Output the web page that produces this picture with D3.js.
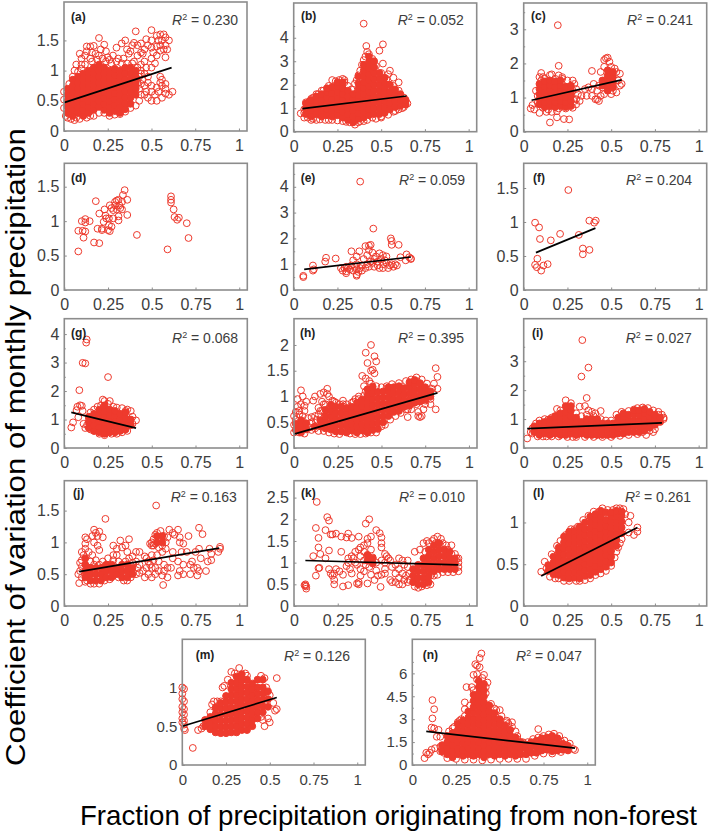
<!DOCTYPE html>
<html><head><meta charset="utf-8"><script src="https://cdn.jsdelivr.net/npm/d3@7/dist/d3.min.js"></script>
<style>html,body{margin:0;padding:0;background:#fff}svg{display:block}text{font-family:"Liberation Sans",Arial,sans-serif}</style>
</head><body><div id="c"></div>
<script>
// Values are estimated by eye from the reference.
// *Pts = individually readable circles [x,y]. *Mass = saturated regions where rings overlap into solid red:
// each row is [x, y, y, y...]; these estimates are drawn as filled markers.
const panelIds=["a","b","c","d","e","f","g","h","i","j","k","l","m","n"];
const r2Labels=["0.230","0.052","0.241",null,"0.059","0.204","0.068","0.395","0.027","0.163","0.010","0.261","0.126","0.047"];
const yTicks=[[0,.5,1,1.5],[0,1,2,3,4],[0,1,2,3],[0,.5,1,1.5],[0,1,2,3,4],[0,.5,1,1.5],[0,1,2,3,4],[0,.5,1,1.5,2],[0,1,2,3],[0,.5,1,1.5],[0,.5,1,1.5,2,2.5],[0,.5,1],[0,.5,1],[0,1.5,3,4.5,6]];
const yMinorTicks=[[],[.5,1.5,2.5,3.5,4.5],[.5,1.5,2.5,3.5],[],[.5,1.5,2.5,3.5,4.5],[],[.5,1.5,2.5,3.5],[],[.5,1.5,2.5,3.5],[],[],[],[],[.75,2.25,3.75,5.25,6.75]];
const yTops=[2.136,5.48,3.77,1.84,4.91,1.863,4.54,2.51,4.47,1.97,2.89,1.5,1.62,8.23];
const xTicks=[0,.25,.5,.75,1];
const fitLines=[[0,.47,.615,1.05],[.05,.98,.645,1.52],[.045,.92,.56,1.52],null,[.06,.8,.67,1.28],[.07,.55,.41,.91],[.04,1.25,.41,.7],[0,.27,.82,1.07],[.02,.67,.79,.87],[.085,.54,.885,.91],[.065,1.05,.94,.95],[.1,.36,.65,.94],[0,.5,.54,.87],[.08,2.2,.93,1.1]];

const aPts=[[0,.65],[0,.52],[0,.38],[.02,.22],[.04,.2],[.07,.22],[.15,.25],[.11,.27],[.2,1.54],[.13,1.4],[.15,1.4],[.17,1.41],[.23,1.43],[.24,1.32],[.09,1.28],[.12,1.25],[.15,1.2],[.18,1.28],[.2,1.25],[.06,1],[.07,1.1],[.1,1.1],[.28,1.25],[.31,1.2],[.3,1.38],[.33,1.45],[.35,1.5],[.38,1.32],[.37,1.28],[.41,1.65],[.4,1.46],[.42,1.42],[.44,1.3],[.45,1.28],[.47,1.52],[.5,1.67],[.5,1.5],[.48,1.42],[.5,1.38],[.46,1.15],[.5,1.2],[.5,1.05],[.47,1.05],[.44,1.1],[.53,1.58],[.55,1.6],[.57,1.6],[.58,1.55],[.6,1.5],[.54,1.5],[.56,1.5],[.58,1.42],[.55,1.42],[.57,1.35],[.53,1.4],[.55,1.33],[.59,1.35],[.58,1.22],[.51,1.3],[.53,1.25],[.62,.65],[.6,.6],[.58,.62],[.58,.7],[.56,.55],[.53,.5],[.5,.5],[.48,.55],[.46,.6],[.44,.6],[.43,.7],[.46,.75],[.5,.65],[.52,.6],[.54,.65],[.56,.75],[.56,.85],[.55,.8],[.53,.72],[.5,.75],[.47,.65],[.48,.8],[.45,.85],[.43,.9],[.58,.78],[.55,.9],[.3,1.15],[.26,1.18],[.22,1.2],[.4,1.15],[.42,1.05],[.42,.8],[.44,.95],[.03,.78],[.05,.9],[.08,.98],[.1,1.03],[.12,1.1],[.16,1.15],[.19,1.18],[.24,1.15],[.27,1.12],[.33,1.12],[.36,1.12],[.39,1.12],[.01,.25],[.03,.28],[.06,.18],[.09,.2],[.13,.22],[.17,.25],[.2,.3],[.23,.3],[.26,.25],[.29,.27],[.32,.28],[.35,.32],[.38,.38],[.41,.42],[.43,.5],[.44,.78],[.46,.95],[.48,.9],[.44,1],[.13,1.32],[.1,1.2],[.16,1.3],[.21,1.35],[.25,1.22],[.34,1.2],[.36,1.35],[.39,1.42],[.42,1.25],[.46,1.35],[.44,1.45],[.52,1.12]];
const aMass=[[.02,.3,.4,.5,.6,.7],[.05,.25,.35,.45,.55,.65,.75,.85],[.08,.3,.4,.5,.6,.7,.8,.9],[.11,.25,.35,.45,.55,.65,.75,.85,.95],[.14,.3,.4,.5,.6,.7,.8,.9,1],[.17,.35,.45,.55,.65,.75,.85,.95,1.05],[.2,.4,.5,.6,.7,.8,.9,1,1.1],[.23,.35,.45,.55,.65,.75,.85,.95,1.05],[.26,.3,.4,.5,.6,.7,.8,.9,1],[.29,.33,.43,.53,.63,.73,.83,.93,1.03],[.32,.3,.4,.5,.6,.7,.8,.9,1],[.35,.36,.46,.56,.66,.76,.86,.96,1.05],[.38,.45,.55,.65,.75,.85,.95,1.05],[.41,.6,.7,.8,.9,1]];
const bPts=[[.4,4.6],[.415,3.65],[.51,3.72],[.49,3.45],[.42,3.4],[.43,3.3],[.41,3.2],[.51,2.9],[.39,2.85],[.55,2.6],[.54,2.45],[.57,2.3],[.37,2.4],[.6,2.1],[.22,2.2],[.28,2.25],[.26,2.2],[.35,2.05],[.16,1.75],[.13,1.6],[.09,1.3],[.07,1.25],[.1,1.4],[.04,.78],[.06,.6],[.08,.6],[.08,.85],[.1,.5],[.13,.5],[.18,.5],[.22,.5],[.3,.42],[.35,.3],[.34,.42],[.38,.45],[.42,.5],[.47,.55],[.5,.6],[.63,1.05],[.65,1.2],[.6,.95],[.57,.85],[.06,.95],[.06,.8],[.29,2.2],[.11,.55],[.15,.52],[.2,.5],[.25,.48],[.28,.45],[.32,.4],[.37,.4],[.4,.45],[.45,.6],[.5,.65],[.54,.72],[.58,.88],[.62,1],[.64,1.3],[.63,1.45],[.6,1.75],[.57,1.95],[.53,2.25],[.5,2.5],[.47,2.8],[.45,3.1],[.4,3.05],[.38,2.6],[.36,2.2],[.33,1.8],[.31,1.95],[.29,2.1],[.24,2.15],[.2,1.95],[.17,1.75],[.14,1.6],[.11,1.45]];
const bMass=[[.07,.75,1,1.2],[.1,.65,.9,1.15,1.35],[.13,.75,1,1.25,1.5],[.16,.65,.9,1.15,1.4,1.6],[.19,.7,.95,1.2,1.45,1.7,1.85],[.22,.65,.9,1.15,1.4,1.65,1.9],[.25,.7,.95,1.2,1.45,1.7,1.95,2.1],[.28,.6,.85,1.1,1.35,1.6,1.85,2.1],[.31,.5,.75,1,1.25,1.5,1.75],[.34,.4,.65,.9,1.15,1.4,1.6],[.37,.55,.8,1.05,1.3,1.55,1.8,2.05,2.35],[.4,.6,.85,1.1,1.35,1.6,1.85,2.1,2.35,2.6,2.85],[.43,.7,.95,1.2,1.45,1.7,1.95,2.2,2.45,2.7,2.95,3.2],[.46,.75,1,1.25,1.5,1.75,2,2.25,2.5,2.75,3],[.49,.75,1,1.25,1.5,1.75,2,2.25,2.5],[.52,.8,1.05,1.3,1.55,1.8,2.05,2.3],[.55,.95,1.2,1.45,1.7,2],[.58,1.05,1.3,1.55,1.8],[.61,1.1,1.35,1.6],[.64,1.15,1.35]];
const cPts=[[.195,3.12],[.2,1.93],[.15,.27],[.19,.42],[.23,.37],[.26,.36],[.04,.68],[.05,.78],[.06,.65],[.09,.55],[.13,.58],[.16,.58],[.19,.6],[.07,1.2],[.09,1.6],[.1,1.72],[.11,1.6],[.15,1.66],[.16,1.68],[.2,1.65],[.22,1.6],[.22,1.55],[.28,1.5],[.29,1.4],[.3,1.25],[.31,1.1],[.32,.9],[.3,.8],[.28,.7],[.24,.68],[.3,.95],[.33,1.05],[.35,1.25],[.36,1.05],[.37,1.3],[.39,1.78],[.39,1.25],[.39,1.05],[.41,.95],[.42,.95],[.43,.9],[.4,1.4],[.42,1.2],[.43,1.35],[.44,1.05],[.46,1.1],[.46,1.5],[.46,1.9],[.47,2.15],[.48,2.17],[.49,2.05],[.46,2.1],[.52,1.85],[.53,1.75],[.55,1.7],[.56,1.4],[.55,1.35],[.53,1.15],[.5,1.1],[.51,1.2],[.45,1.3],[.47,1.35],[.5,1.9],[.44,1.75],[.54,1.5],[.08,1.05],[.08,.85],[.1,1.5],[.12,1.55],[.18,1.55],[.25,1.5],[.26,1.1],[.28,1.2],[.29,.9],[.11,.7],[.14,.65],[.2,.68]];
const cMass=[[.09,.8,.95,1.1,1.25,1.4],[.12,.72,.87,1.02,1.17,1.32,1.47],[.15,.75,.9,1.05,1.2,1.35,1.5],[.18,.72,.87,1.02,1.17,1.32,1.47],[.21,.75,.9,1.05,1.2,1.35,1.5],[.24,.72,.87,1.02,1.17,1.32],[.27,.75,.9,1.05,1.2,1.35],[.45,1.35,1.5],[.48,1.2,1.35,1.5,1.65,1.8],[.51,1.3,1.45,1.6,1.75]];
const dPts=[[.08,.56],[.08,.86],[.11,.76],[.105,.86],[.12,.85],[.1,1],[.12,1.03],[.12,.98],[.145,1],[.17,.69],[.2,.68],[.18,1.29],[.2,1.11],[.19,.89],[.215,.89],[.215,.87],[.225,.99],[.235,1.08],[.23,1.17],[.24,1.04],[.255,1.04],[.25,.87],[.26,.855],[.27,.92],[.255,.94],[.28,1.04],[.26,1.23],[.28,1.16],[.29,1.28],[.3,1.17],[.31,1.31],[.32,1.19],[.33,1.28],[.335,1.38],[.345,1.45],[.36,1.31],[.36,1.09],[.31,1.01],[.31,1.07],[.33,1.17],[.415,.8],[.59,.59],[.61,1.36],[.61,1.31],[.61,1.27],[.625,1.17],[.63,1.06],[.645,1.02],[.655,1.05],[.7,.97],[.71,.755],[.29,1.23],[.27,1.19],[.3,1.3],[.315,1.23]];
const dMass=[];
const ePts=[[.38,4.2],[.455,2.38],[.555,2],[.56,1.9],[.56,1.75],[.6,1.75],[.43,1.72],[.41,1.7],[.44,1.75],[.33,1.5],[.375,1.5],[.43,1.55],[.45,1.45],[.49,1.42],[.51,1.35],[.53,1.3],[.24,1.22],[.185,1.25],[.18,1.1],[.11,.95],[.115,.8],[.11,.75],[.055,.55],[.055,.5],[.645,1.38],[.61,1.27],[.66,1.27],[.67,1.2],[.67,1.22],[.64,1.15],[.36,1.3],[.34,1.15],[.4,1.2],[.42,1.35],[.46,1.2],[.48,1.1],[.5,1.2],[.52,1.15],[.55,.95],[.57,.9],[.59,.95],[.58,1],[.56,1],[.54,.85],[.51,.85],[.49,.85],[.46,.9],[.43,.9],[.41,.85],[.38,.85],[.36,.8],[.36,.55],[.36,.6],[.34,.75],[.32,.8],[.3,.65],[.3,.72],[.28,.75],[.27,.85],[.3,.9],[.33,.95],[.36,1],[.39,.95],[.42,1],[.45,1.05],[.48,.95],[.51,1],[.53,1.05],[.37,.7],[.39,.75],[.31,.85],[.29,.85],[.35,.9],[.47,1.3],[.44,1.1]];
const eMass=[];
const fPts=[[.255,1.47],[.065,.99],[.088,.92],[.093,.75],[.155,.73],[.208,.825],[.315,.81],[.375,1.02],[.403,.99],[.412,1.02],[.338,.61],[.338,.525],[.376,.59],[.078,.46],[.065,.37],[.075,.335],[.1,.285],[.113,.36],[.137,.38]];
const fMass=[];
const gPts=[[.128,3.81],[.125,3.7],[.105,2.99],[.12,2.97],[.25,2.49],[.086,2.03],[.04,.72],[.05,.9],[.09,1.5],[.075,1.45],[.1,1.48],[.07,1.33],[.105,1.3],[.08,1.08],[.11,.85],[.12,.7],[.22,1.7],[.23,1.65],[.26,1.65],[.28,1.45],[.33,1.4],[.36,1.35],[.38,1.3],[.39,1.1],[.41,.97],[.39,.85],[.36,.6],[.33,.55],[.3,.5],[.27,.5],[.23,.45],[.2,.5],[.17,.6],[.15,.65],[.15,1.25],[.17,1.35],[.19,1.45],[.21,1.5],[.25,1.55],[.3,1.42],[.35,1.3],[.14,1],[.13,.8]];
const gMass=[[.14,.7,.9,1.1],[.17,.6,.8,1,1.2],[.2,.55,.75,.95,1.15,1.35],[.23,.5,.7,.9,1.1,1.3,1.5],[.26,.55,.75,.95,1.15,1.35],[.29,.55,.75,.95,1.15,1.3],[.32,.6,.8,1,1.2],[.35,.65,.85,1.05,1.25],[.38,.8,1]];
const hPts=[[.44,2],[.41,1.85],[.46,1.78],[.47,1.68],[.42,1.65],[.44,1.5],[.45,1.52],[.46,1.45],[.39,1.4],[.41,1.35],[.43,1.3],[.81,1.55],[.82,1.38],[.8,1.25],[.82,1.15],[.81,.75],[.78,.85],[.65,.6],[.71,.62],[.72,.6],[.73,.62],[.71,.7],[.74,.75],[.75,.85],[.65,.75],[.04,1.12],[.05,1],[.02,.95],[.07,.9],[.04,.85],[.02,.8],[.06,.82],[.01,.7],[.03,.72],[0,.62],[0,.3],[.06,.28],[.03,.3],[.12,1],[.11,.92],[.15,1.05],[.17,1.08],[.19,1.05],[.19,1.15],[.2,1],[.16,.9],[.17,.85],[.15,.72],[.14,.78],[.13,.55],[.1,.5],[.09,.4],[.28,.92],[.35,.95],[.37,1],[.34,.9],[.23,.9],[.26,.85],[0,.45],[.01,.55],[.03,.65],[.05,.62],[.08,.58],[.09,.48],[.06,.72],[.1,.35],[.12,.38],[.14,.33],[.17,.33],[.2,.3],[.23,.28],[.26,.27],[.1,.6],[.12,.62],[.14,.65],[.16,.72],[.18,.85],[.22,.92],[.24,.88],[.28,.85],[.3,.85],[.33,.88],[.37,.95],[.4,1.02],[.41,1.1],[.4,1.2],[.44,1.25],[.47,1.2],[.5,1.18],[.53,1.2],[.56,1.24],[.6,1.26],[.64,1.3],[.67,1.33],[.7,1.37],[.73,1.33],[.76,1.25],[.79,1.15],[.52,.45],[.55,.55],[.58,.62],[.61,.68],[.64,.75],[.67,.75],[.7,.85],[.75,.92],[.78,.95],[.5,.42],[.47,.3],[.44,.3],[.41,.28],[.38,.27],[.35,.27],[.32,.28]];
const hMass=[[.01,.35,.47],[.04,.3,.42,.54],[.07,.36,.48],[.12,.42],[.15,.42,.54],[.18,.38,.5,.62,.74],[.21,.36,.48,.6,.72,.84],[.24,.32,.44,.56,.68,.8],[.27,.32,.44,.56,.68,.8],[.3,.3,.42,.54,.66,.78],[.33,.34,.46,.58,.7,.8],[.36,.3,.42,.54,.66,.78,.88],[.39,.34,.46,.58,.7,.82,.94],[.42,.3,.42,.54,.66,.78,.9,1.02,1.14],[.45,.35,.47,.59,.71,.83,.95,1.07,1.19],[.48,.37,.49,.61,.73,.85,.97,1.09],[.51,.5,.62,.74,.86,.98,1.1],[.54,.62,.74,.86,.98,1.1,1.18],[.57,.7,.82,.94,1.06,1.18],[.6,.72,.84,.96,1.08,1.2],[.63,.8,.92,1.04,1.16],[.66,.82,.94,1.06,1.18,1.28],[.69,.88,1,1.12,1.24,1.32],[.72,.9,1.02,1.14,1.26],[.75,.94,1.06,1.18],[.78,1,1.1]];
const iPts=[[.335,3.73],[.37,2.78],[.33,2.47],[.36,1.73],[.24,1.65],[.27,1.55],[.32,1.43],[.35,1.45],[.19,1.35],[.18,1.1],[.37,1.3],[.44,1.28],[.41,1.2],[.39,1.25],[.02,.33],[.05,.5],[.7,.45],[.74,.55],[.75,.65],[.72,.6],[.77,1.25],[.71,1.38],[.68,1.4],[.8,1.05],[.79,1.15],[.08,.4],[.13,.4],[.28,.38],[.04,.55],[.05,.68],[.07,.85],[.09,.95],[.12,1],[.14,.98],[.16,1.05],[.21,1.3],[.2,1.15],[.3,1.2],[.33,1.1],[.36,1.15],[.4,1.1],[.44,1],[.47,.95],[.5,.95],[.53,1.15],[.56,1.25],[.6,1.28],[.63,1.33],[.65,1.38],[.74,1.3],[.77,1.15],[.8,1],[.11,.4],[.16,.4],[.2,.4],[.25,.38],[.3,.38],[.35,.38],[.4,.38],[.45,.38],[.5,.38],[.55,.42],[.6,.45],[.65,.48],[.68,.55]];
const iMass=[[.06,.55,.75],[.09,.45,.65,.85],[.12,.5,.7,.9],[.15,.45,.65,.85,1],[.18,.5,.7,.9,1.1],[.21,.45,.65,.85,1.05,1.2],[.24,.45,.65,.85,1.05,1.25,1.45],[.27,.5,.7,.9,1.1,1.3,1.45],[.3,.45,.65,.85,1.05],[.33,.5,.7,.9],[.36,.45,.65,.85,1],[.39,.45,.65,.85,1],[.42,.45,.65,.85,1],[.45,.45,.65,.85],[.48,.45,.65,.85],[.51,.45,.65,.85],[.54,.5,.7,.9,1.05],[.57,.5,.7,.9,1.1,1.2],[.6,.55,.75,.95,1.15],[.63,.55,.75,.95,1.15,1.3],[.66,.55,.75,.95,1.15,1.3],[.69,.6,.8,1,1.2,1.35],[.72,.7,.9,1.1,1.25],[.75,.8,1,1.15],[.78,.9,1.05]];
const jPts=[[.525,1.58],[.235,1.37],[.77,1.23],[.79,1.13],[.565,.33],[.085,.36],[.17,1.2],[.18,1.15],[.16,1.1],[.19,1.1],[.2,1.17],[.22,1.08],[.12,1.08],[.13,1.05],[.12,.98],[.17,1],[.19,.95],[.2,.88],[.12,.9],[.1,.85],[.11,.8],[.1,.72],[.09,.68],[.14,.85],[.16,.8],[.18,.72],[.2,.65],[.08,.5],[.1,.45],[.13,.4],[.28,.95],[.3,.9],[.32,1.03],[.33,.92],[.36,.85],[.37,1.05],[.35,.95],[.39,.78],[.41,.85],[.43,.85],[.46,.78],[.3,.8],[.28,.8],[.37,.75],[.41,.7],[.43,.65],[.45,.55],[.47,.75],[.49,.65],[.48,.5],[.5,.6],[.5,.45],[.52,.5],[.5,.8],[.49,.98],[.51,.95],[.51,1.05],[.53,1.15],[.55,1.18],[.57,1.1],[.58,.9],[.56,.85],[.53,.8],[.51,.72],[.54,.7],[.57,.65],[.59,.6],[.57,.55],[.59,.45],[.61,.6],[.62,.85],[.62,.75],[.6,1.2],[.62,1.15],[.63,1.12],[.65,1.2],[.66,1],[.66,1.08],[.68,.98],[.67,.85],[.65,.7],[.66,.55],[.65,.48],[.68,.5],[.68,.65],[.7,.85],[.71,1.1],[.72,.65],[.73,.7],[.74,.6],[.72,.5],[.76,.6],[.77,.55],[.76,.48],[.81,.55],[.77,.9],[.75,.85],[.78,.75],[.82,.7],[.83,.9],[.84,.82],[.84,.72],[.89,.93],[.88,.85],[.89,.9],[.09,.55],[.1,.62],[.12,.38],[.15,.35],[.17,.35],[.2,.35],[.23,.4],[.26,.42],[.28,.48],[.31,.45],[.34,.4],[.36,.4],[.38,.45],[.41,.5],[.43,.52],[.22,.7],[.25,.75],[.28,.72],[.31,.7],[.35,.7],[.39,.68],[.42,.6],[.15,.7],[.17,.65],[.47,.6],[.46,.45],[.48,.7],[.52,.6],[.54,.55],[.56,.48],[.5,.95],[.52,.98],[.54,.92],[.56,.95],[.58,1],[.59,1.08],[.5,1],[.52,1.12],[.54,1.05]];
const jMass=[[.12,.45,.55,.65,.75],[.15,.4,.5,.6],[.18,.4,.5,.6],[.21,.4,.5,.6],[.24,.45,.55,.65],[.27,.45,.55,.65],[.3,.5,.6],[.33,.45,.55,.65],[.36,.45,.55,.65],[.39,.5,.6],[.53,1,1.1],[.56,1,1.1]];
const kPts=[[.13,2.4],[.19,2.05],[.2,1.97],[.43,2],[.41,1.9],[.125,1.8],[.18,1.75],[.21,1.65],[.22,1.65],[.24,1.67],[.14,1.57],[.27,1.6],[.31,1.67],[.3,1.58],[.33,1.57],[.37,1.6],[.42,1.55],[.44,1.6],[.47,1.75],[.49,1.68],[.5,1.58],[.5,1.45],[.14,1.35],[.15,1.2],[.11,1.15],[.2,1.28],[.27,1.25],[.18,1.1],[.145,.88],[.14,.87],[.125,.7],[.2,.85],[.21,.75],[.22,.7],[.23,.75],[.23,.5],[.23,.6],[.24,.85],[.26,.8],[.28,.72],[.28,.45],[.31,.48],[.36,.52],[.37,.55],[.37,.5],[.42,.52],[.495,.44],[.065,.5],[.065,.47],[.07,.45],[.07,.4],[.06,.48],[.31,1],[.3,.92],[.32,.85],[.33,.75],[.34,1.1],[.35,1.25],[.37,1.3],[.38,1.35],[.4,1.4],[.42,1.45],[.36,.95],[.38,.85],[.4,.8],[.44,.72],[.47,.82],[.48,.7],[.5,.72],[.52,.75],[.53,1.15],[.52,1.2],[.5,1.35],[.54,1.1],[.56,.9],[.58,.75],[.55,.6],[.58,.55],[.6,.65],[.62,.5],[.63,.6],[.65,.55],[.6,.85],[.63,.95],[.65,1.05],[.69,1.25],[.72,1.3],[.74,1.45],[.76,1.5],[.8,1.55],[.82,1.6],[.84,1.55],[.87,1.4],[.9,1.4],[.93,1.1],[.94,1],[.38,1.15],[.4,1.25],[.44,1.3],[.45,1.12],[.47,1],[.43,.9],[.41,.95],[.5,1.05],[.52,1],[.55,1.05],[.58,.95],[.6,1.1],[.62,1.05],[.65,.9],[.62,.75],[.64,.7],[.66,.75],[.69,.45],[.71,.42],[.73,.45],[.76,.48],[.78,.5],[.66,.6],[.75,1.25],[.77,1.45],[.79,1.5],[.81,1.45],[.85,1.45],[.88,1.3],[.9,1.2],[.92,1.2],[.94,1.1],[.94,.9],[.94,.8],[.91,.78],[.88,.78],[.85,.78],[.82,.72],[.8,.7],[.78,.7],[.4,1.05],[.35,1],[.33,1.15],[.31,1.1],[.38,.7],[.46,.6],[.52,.85],[.56,.55],[.6,.5]];
const kMass=[[.42,1.05,1.18],[.45,.98,1.1],[.68,.55,.7,.85],[.71,.5,.65,.8,.95],[.74,.5,.65,.8,.95,1.1],[.77,.55,.7,.85,1,1.15,1.3],[.8,.8,.95,1.1,1.25,1.4],[.83,.85,1,1.15,1.3,1.45],[.86,.85,1,1.15,1.3],[.89,.85,.98,1.1,1.25],[.92,.85,1,1.1]];
const lPts=[[.1,.41],[.12,.53],[.13,.45],[.65,.94],[.65,.89],[.63,.85],[.61,1.08],[.6,1],[.6,.88],[.54,.7],[.53,.65],[.52,.58],[.15,.35],[.2,.33],[.26,.3],[.3,.3],[.57,1.16],[.55,1.17],[.43,1.13],[.33,.94],[.26,.88],[.27,.92],[.23,.7],[.16,.62],[.19,.72],[.21,.78],[.24,.85],[.29,.92],[.31,.95],[.34,1.03],[.37,1.08],[.4,1.13],[.45,1.17],[.48,1.15],[.51,1.15],[.53,1.17],[.47,.42],[.44,.39],[.41,.37],[.38,.33],[.35,.31],[.32,.3],[.23,.3],[.18,.33],[.5,.48],[.58,1.1],[.56,.8],[.55,.75]];
const lMass=[[.14,.42,.49],[.17,.38,.45,.52,.59],[.2,.37,.44,.51,.58,.65,.7],[.23,.34,.41,.48,.55,.62,.69,.76,.83],[.26,.33,.4,.47,.54,.61,.68,.75,.82,.89],[.29,.34,.41,.48,.55,.62,.69,.76,.83,.9],[.32,.33,.4,.47,.54,.61,.68,.75,.82,.89,.95],[.35,.36,.43,.5,.57,.64,.71,.78,.85,.92,1],[.38,.37,.44,.51,.58,.65,.72,.79,.86,.93,1,1.07],[.41,.41,.48,.55,.62,.69,.76,.83,.9,.97,1.04,1.1],[.44,.44,.51,.58,.65,.72,.79,.86,.93,1,1.07,1.14],[.47,.47,.54,.61,.68,.75,.82,.89,.96,1.03,1.12],[.5,.52,.59,.66,.73,.8,.87,.94,1.01,1.08,1.12],[.53,.72,.79,.86,.93,1,1.07,1.14],[.56,.87,.94,1.01,1.08,1.13]];
const mPts=[[.325,1.25],[0,1],[.01,.98],[0,.92],[0,.85],[.01,.82],[0,.75],[.01,.72],[0,.68],[.01,.65],[0,.6],[.01,.57],[0,.55],[.01,.52],[.01,.47],[.015,.45],[.06,.22],[.09,.45],[.11,.47],[.12,.5],[.54,1.12],[.54,.72],[.53,.7],[.5,.55],[.49,.6],[.47,.5],[.46,.58],[.45,.62],[.52,.8],[.5,.9],[.23,1],[.24,1.02],[.16,.68],[.17,.78],[.18,.82],[.2,.82],[.22,.82],[.26,1.1],[.28,1.2],[.3,1.18],[.36,1.18],[.37,1.15],[.45,1.15],[.47,1.12],[.48,1]];
const mMass=[[.13,.5,.58],[.16,.46,.54,.62],[.19,.42,.5,.58,.66,.74],[.22,.41,.49,.57,.65,.73,.8],[.25,.41,.49,.57,.65,.73,.81,.89],[.28,.42,.5,.58,.66,.74,.82,.9,.98,1.06],[.31,.42,.5,.58,.66,.74,.82,.9,.98,1.06,1.14],[.34,.45,.53,.61,.69,.77,.85,.93,1.01,1.09,1.17],[.37,.45,.53,.61,.69,.77,.85,.93,1.01,1.1],[.4,.5,.58,.66,.74,.82,.9,.98,1.05],[.43,.6,.68,.76,.84,.92,1,1.1],[.46,.68,.76,.84,.92,1,1.1],[.49,.75,.85,.95]];
const nPts=[[.395,7.3],[.385,7],[.36,6.6],[.37,6.5],[.385,6.4],[.35,5.9],[.37,5.95],[.41,5.9],[.43,5.4],[.42,5.1],[.34,5.1],[.31,5.1],[.115,4.25],[.125,3.65],[.3,4.1],[.3,3.65],[.115,3.05],[.11,2.45],[.125,2.4],[.15,2.3],[.14,1.85],[.16,1.85],[.13,1.1],[.11,1],[.1,.8],[.09,.7],[.08,.8],[.07,.45],[.16,.9],[.72,2.35],[.92,1.05],[.93,.98],[.88,1.3],[.85,1.55],[.47,3.7],[.5,3.6],[.54,2.9],[.57,2.8],[.55,2.7],[.59,2.2],[.6,1.7],[.26,2.8],[.28,3],[.23,2.4],[.21,2.2],[.24,2.5],[.27,2.9],[.3,3.2],[.33,3.9],[.35,4.9],[.37,5.6],[.4,5.7],[.42,4.7],[.45,4],[.48,3.6],[.51,3.2],[.54,2.8],[.57,2.5],[.6,1.9],[.63,1.5],[.66,1.5],[.69,1.7],[.72,1.8],[.75,1.9],[.78,2],[.81,2.05],[.84,1.9],[.87,1.6],[.9,1.4],[.2,.45],[.25,.4],[.3,.35],[.35,.35],[.4,.3],[.45,.35],[.5,.4],[.55,.4],[.6,.4],[.65,.4],[.7,.6],[.75,.75],[.8,.75],[.85,.85],[.18,.8],[.16,1.2]];
const nMass=[[.17,.9,1.3],[.2,.7,1.1,1.5,1.9],[.23,.5,.9,1.3,1.7,2.1],[.26,.7,1.1,1.5,1.9,2.3,2.7],[.29,.6,1,1.4,1.8,2.2,2.6,2.9],[.32,.7,1.1,1.5,1.9,2.3,2.7,3.1,3.5],[.35,.6,1,1.4,1.8,2.2,2.6,3,3.4,3.8,4.2,4.6],[.38,.7,1.1,1.5,1.9,2.3,2.7,3.1,3.5,3.9,4.3,4.7,5.1,5.5],[.41,.5,.9,1.3,1.7,2.1,2.5,2.9,3.3,3.7,4.1,4.5,4.9,5.3],[.44,.7,1.1,1.5,1.9,2.3,2.7,3.1,3.5,3.9],[.47,.6,1,1.4,1.8,2.2,2.6,3,3.4],[.5,.7,1.1,1.5,1.9,2.3,2.7,3],[.53,.6,1,1.4,1.8,2.2,2.6],[.56,.7,1.1,1.5,1.9,2.3],[.59,.6,1,1.4,1.8],[.62,.7,1.1,1.5],[.65,.7,1.1,1.35],[.68,.8,1.2,1.5],[.71,.8,1.2,1.6],[.74,.95,1.35,1.75],[.77,1,1.4,1.8],[.8,.9,1.3,1.7,1.9],[.83,.95,1.35,1.75],[.86,1,1.4],[.89,.95,1.25]];

const allPts=[aPts,bPts,cPts,dPts,ePts,fPts,gPts,hPts,iPts,jPts,kPts,lPts,mPts,nPts];
const allMass=[aMass,bMass,cMass,dMass,eMass,fMass,gMass,hMass,iMass,jMass,kMass,lMass,mMass,nMass];

// layout (pixels)
const W=709,H=833,PW=183,RED="#ee3a2d",FRAME="#8c8c8c",INK="#3d3d3d";
const lefts=[64,293.7,523.7,64.3,293.7,523.7,64.3,294,523.7,64.3,294,523.7,182.3,412.3];
const tops=[2,3,3,163.3,163.3,163.3,318.7,318.7,318.7,480.7,480.7,480.7,639.3,639.3];
const bottoms=[131,131.7,131.7,290,290,290,448,448,448,606,606,606,765,765];
const r2Pos=[[172,25],[397.7,25],[627,25],null,[399,185],[626,185],[172,343],[398,343],[625.7,343],[170.7,501.7],[399,501.7],[625,501.7],[284,660.7],[516,660.7]];
const tagPos=[[71,20.7],[301,20],[531,20],[71,181.7],[300.7,182],[533,182],[71,336.7],[300,336.7],[532,336.7],[73,496.7],[301,496.7],[533,496.7],[195.7,659],[422.7,659]];

const svg=d3.select("#c").append("svg").attr("width",W).attr("height",H).attr("viewBox",`0 0 ${W} ${H}`);
const xDomain=[0,1.046];
panelIds.forEach((id,i)=>{
  const L=lefts[i],T=tops[i],B=bottoms[i];
  const x=d3.scaleLinear().domain(xDomain).range([L,L+PW]);
  const y=d3.scaleLinear().domain([0,yTops[i]]).range([B,T]);
  const fs=i>=12?15:16;
  const g=svg.append("g").attr("class","panel panel-"+id);
  const ax=g.append("g").attr("transform",`translate(0,${B})`)
    .call(d3.axisBottom(x).tickValues(xTicks).tickFormat(d=>String(d)).tickSizeInner(-2.5).tickSizeOuter(0).tickPadding(9));
  const ay=g.append("g").attr("transform",`translate(${L},0)`)
    .call(d3.axisLeft(y).tickValues(yTicks[i]).tickFormat(d=>String(d)).tickSizeInner(-2.5).tickSizeOuter(0).tickPadding(5));
  if(yMinorTicks[i].length) g.append("g").attr("transform",`translate(${L},0)`)
    .call(d3.axisLeft(y).tickValues(yMinorTicks[i]).tickFormat("").tickSizeInner(-1.5).tickSizeOuter(0)).select(".domain").remove();
  [ax,ay].forEach(a=>{a.select(".domain").remove();
    a.selectAll("text").attr("fill",INK).style("font-size",fs+"px");});
  g.selectAll(".tick line").attr("stroke",FRAME);
  const marks=g.append("g");
  marks.selectAll("circle.pt").data(allPts[i]).join("circle").attr("class","pt")
    .attr("cx",d=>x(d[0])).attr("cy",d=>y(d[1])).attr("r",3.4).attr("fill","none").attr("stroke",RED).attr("stroke-width",1);
  const mass=allMass[i].flatMap(row=>row.slice(1).map(v=>[row[0],v]));
  marks.selectAll("circle.mass").data(mass).join("circle").attr("class","mass")
    .attr("cx",d=>x(d[0])).attr("cy",d=>y(d[1])).attr("r",3.4).attr("fill",RED).attr("stroke",RED).attr("stroke-width",1);
  if(fitLines[i]){const f=fitLines[i];
    g.append("line").attr("x1",x(f[0])).attr("y1",y(f[1])).attr("x2",x(f[2])).attr("y2",y(f[3])).attr("stroke","#000").attr("stroke-width",1.7);}
  g.append("rect").attr("x",L).attr("y",T).attr("width",PW).attr("height",B-T).attr("fill","none").attr("stroke",FRAME).attr("stroke-width",1.6);
  g.append("text").attr("x",tagPos[i][0]).attr("y",tagPos[i][1]).attr("font-size",12).attr("font-weight","bold").attr("fill","#222").text(`(${id})`);
  if(r2Labels[i]){
    const t=g.append("text").attr("x",r2Pos[i][0]).attr("y",r2Pos[i][1]).attr("font-size",14).attr("fill",INK);
    t.append("tspan").attr("font-style","italic").text("R");
    t.append("tspan").attr("font-size",9).attr("dy",-5).text("2");
    t.append("tspan").attr("dy",5).text(" = "+r2Labels[i]);
  }
});
svg.append("text").attr("transform","translate(25,447) rotate(-90)").attr("text-anchor","middle").attr("font-size",27.5).attr("textLength",638).attr("lengthAdjust","spacingAndGlyphs").attr("fill","#000").text("Coefficient of variation of monthly precipitation");
svg.append("text").attr("x",388.5).attr("y",825).attr("text-anchor","middle").attr("font-size",27.6).attr("textLength",617).attr("lengthAdjust","spacingAndGlyphs").attr("fill","#000").text("Fraction of precipitation originating from non-forest");
</script></body></html>
